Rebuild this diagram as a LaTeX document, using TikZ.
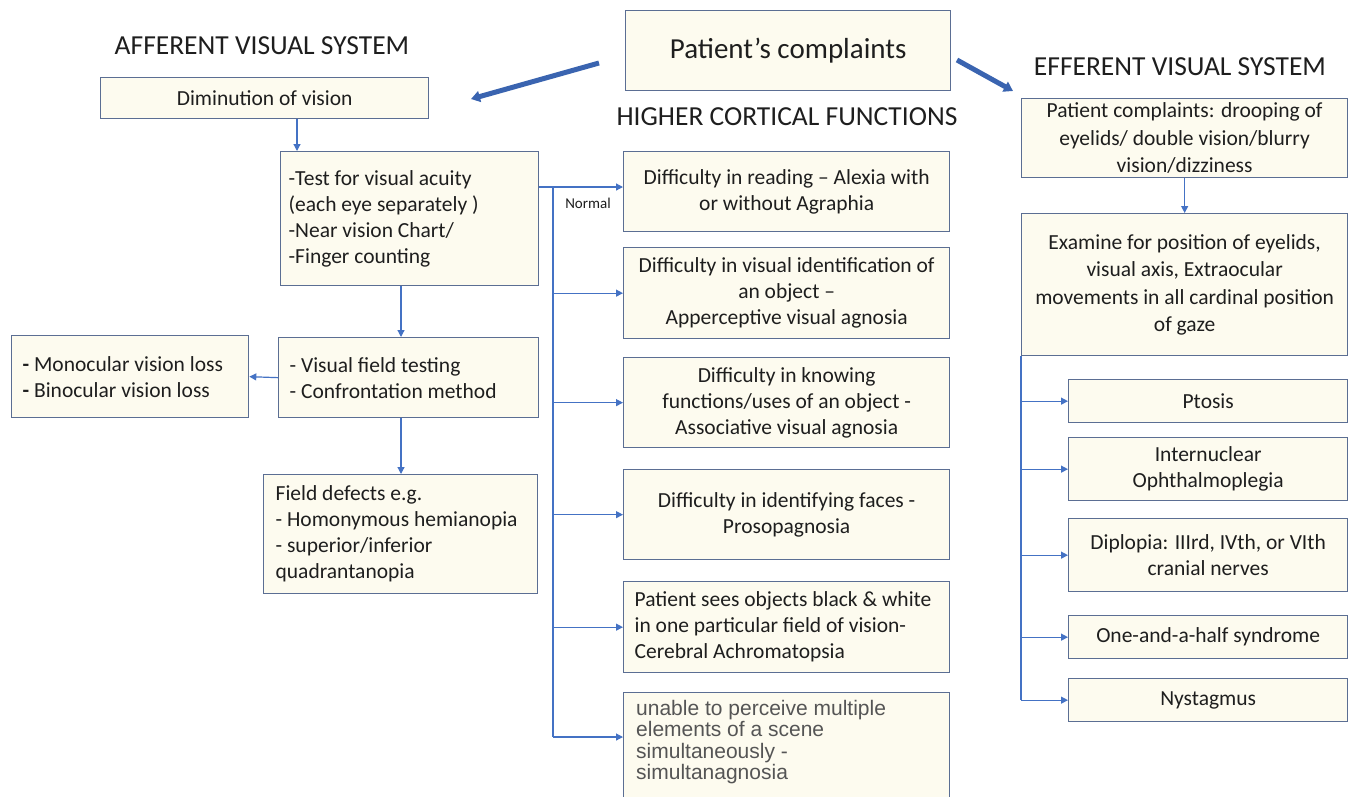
\documentclass[tikz,border=0pt]{standalone}
\usepackage{fontspec}
\setmainfont{Carlito}
\newfontfamily\arialf{Liberation Sans}
\usetikzlibrary{arrows.meta}
\definecolor{boxfill}{HTML}{FDFBEF}
\definecolor{boxdraw}{HTML}{5B6E93}
\definecolor{connblue}{HTML}{4472C4}
\definecolor{bigblue}{HTML}{3A64B0}
\definecolor{txt}{HTML}{1E1E1E}
\definecolor{graytxt}{HTML}{555555}
\newcommand{\natsp}{\spaceskip=0pt\xspaceskip=0pt\relax}
\newcommand{\lineof}[1]{\mbox{\natsp #1}}
\begin{document}
\begin{tikzpicture}[x=1pt,y=-1pt,
  box/.style={draw=boxdraw, fill=boxfill, line width=1.3pt, inner sep=0pt, anchor=north west, text=txt, font=\fontsize{21.5}{26}\selectfont},
  cbox/.style={box, align=center},
  lbox/.style={box, align=left},
  ebox/.style={box, align=center, font=\fontsize{21.5}{27.5}\selectfont},
  conn/.style={draw=connblue, line width=1.2pt, -{Triangle[length=7pt,width=7pt]}},
  trunkline/.style={draw=connblue, line width=1.2pt},
  big/.style={draw=bigblue, line width=5pt, -{Triangle[length=9pt,width=11pt]}},
  head/.style={font=\fontsize{27.5}{32}\selectfont, text=txt, inner sep=0pt}
]
\clip (0,0) rectangle (1349,796);
\fill[white] (0,0) rectangle (1349,796);

% headings
\node[head] (hafferent) at (262,46) {AFFERENT VISUAL SYSTEM};
\node[head] (hhigher) at (787,117) {HIGHER CORTICAL FUNCTIONS};
\node[head] (hefferent) at (1180,67) {EFFERENT VISUAL SYSTEM};

% top
\node[cbox, minimum width=325, minimum height=80, font=\fontsize{29}{32}\selectfont] (pat) at (625,10) {Patient’s complaints};
\coordinate (bl1) at (599,63);
\coordinate (bl2) at (471,99);
\coordinate (br1) at (957,60);
\coordinate (br2) at (1013,91);
\draw[big] (bl1) -- (bl2);
\draw[big] (br1) -- (br2);

% afferent
\node[cbox, minimum width=328, minimum height=41] (dim) at (100,77) {Diminution of vision};
\node[lbox, minimum width=258, minimum height=134, text width=242, inner xsep=8] (test) at (280,151)
  {\natsp\lineof{-Test for visual acuity}\\\lineof{(each eye separately )}\\\lineof{-Near vision Chart/}\\\lineof{-Finger counting}};
\node[lbox, minimum width=260, minimum height=80, text width=238, inner xsep=11] (vf) at (278,337)
  {\natsp\lineof{- Visual field testing}\\\lineof{- Confrontation method}};
\node[lbox, minimum width=237, minimum height=82, text width=215, inner xsep=11] (mono) at (11,335)
  {\natsp\lineof{\textbf{-} Monocular vision loss}\\\lineof{\textbf{-} Binocular vision loss}};
\node[lbox, minimum width=274, minimum height=119, text width=250, inner xsep=12] (fd) at (263,474)
  {\natsp\lineof{Field defects e.g.}\\\lineof{- Homonymous hemianopia}\\\lineof{- superior/inferior}\\\lineof{quadrantanopia}};

\coordinate (xa) at (297,0);
\coordinate (xb) at (401,0);
\draw[conn] (dim.south -| xa) -- (test.north -| xa);
\draw[conn] (test.south -| xb) -- (vf.north -| xb);
\draw[conn] (vf.west) -- (mono.east);
\draw[conn] (vf.south -| xb) -- (fd.north -| xb);

% higher cortical
\node[cbox, minimum width=326, minimum height=80] (h1) at (623,151) {Difficulty in reading – Alexia with\\or without Agraphia};
\node[cbox, minimum width=326, minimum height=91] (h2) at (623,247) {Difficulty in visual identification of\\an object –\\Apperceptive visual agnosia};
\node[cbox, minimum width=326, minimum height=90] (h3) at (623,357) {Difficulty in knowing\\functions/uses of an object -\\Associative visual agnosia};
\node[cbox, minimum width=326, minimum height=90] (h4) at (623,469) {Difficulty in identifying faces -\\Prosopagnosia};
\node[lbox, minimum width=326, minimum height=91, text width=304, inner xsep=11] (h5) at (623,581)
  {\natsp\lineof{Patient sees objects black \& white}\\\lineof{in one particular field of vision-}\\\lineof{Cerebral Achromatopsia}};
\node[box, minimum width=326, minimum height=120] (h6) at (623,692) {};
\node[anchor=north west, inner sep=0pt, align=left, text=graytxt, font=\arialf\fontsize{21}{21.3}\selectfont] (h6t) at ([xshift=13pt,yshift=-8pt]h6.north west)
  {unable to perceive multiple\\elements of a scene\\simultaneously -\\simultanagnosia};

\coordinate (trk) at (553,0);
\coordinate (y1) at (0,187);
\coordinate (y6) at (0,737);
\draw[conn] (test.east |- y1) -- (h1.west |- y1);
\draw[trunkline] (trk |- y1) -- (trk |- y6);
\draw[conn] (trk |- h2.west) -- (h2.west);
\draw[conn] (trk |- h3.west) -- (h3.west);
\draw[conn] (trk |- h4.west) -- (h4.west);
\draw[conn] (trk |- h5.west) -- (h5.west);
\draw[conn] (trk |- y6) -- (h6.west |- y6);
\node[inner sep=0pt, text=txt, font=\fontsize{15}{18}\selectfont] (normal) at (588,203) {Normal};

% efferent
\node[ebox, minimum width=326, minimum height=79] (ea) at (1021,98) {Patient complaints: drooping of\\eyelids/ double vision/blurry\\vision/dizziness};
\node[ebox, minimum width=326, minimum height=142] (eb) at (1021,213) {Examine for position of eyelids,\\visual axis, Extraocular\\movements in all cardinal position\\of gaze};
\node[cbox, minimum width=279, minimum height=43] (pt) at (1068,379) {Ptosis};
\node[cbox, minimum width=279, minimum height=63] (inu) at (1068,437) {Internuclear\\Ophthalmoplegia};
\node[cbox, minimum width=279, minimum height=73] (dip) at (1068,518) {Diplopia: IIIrd, IVth, or VIth\\cranial nerves};
\node[cbox, minimum width=279, minimum height=43] (oah) at (1068,615) {One-and-a-half syndrome};
\node[cbox, minimum width=279, minimum height=43] (nys) at (1068,678) {Nystagmus};

\draw[conn] (ea.south) -- (eb.north);
\draw[trunkline] (eb.south west) -- (eb.south west |- nys.west);
\draw[conn] (eb.south west |- pt.west) -- (pt.west);
\draw[conn] (eb.south west |- inu.west) -- (inu.west);
\draw[conn] (eb.south west |- dip.west) -- (dip.west);
\draw[conn] (eb.south west |- oah.west) -- (oah.west);
\draw[conn] (eb.south west |- nys.west) -- (nys.west);
\end{tikzpicture}
\end{document}
